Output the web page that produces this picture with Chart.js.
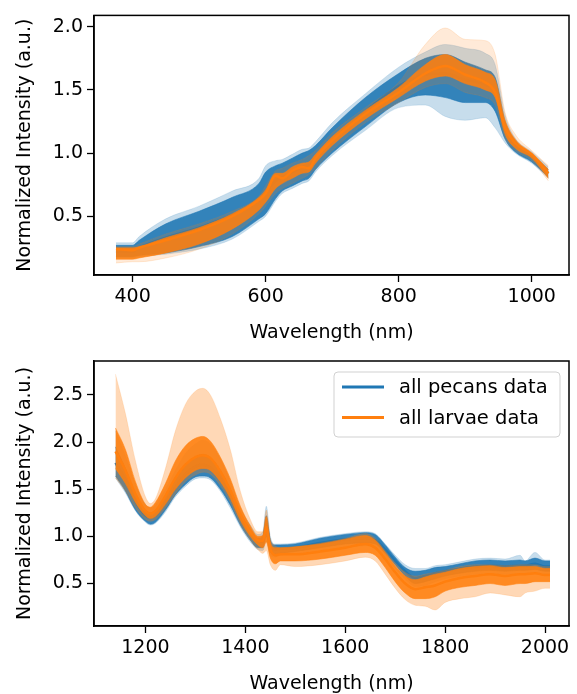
<!DOCTYPE html>
<html>
<head>
<meta charset="utf-8">
<script src="https://cdn.jsdelivr.net/npm/chart.js@4/dist/chart.umd.min.js"></script>
<style>
  body { margin: 0; background: #fff; }
  .panel { position: relative; width: 577px; }
  canvas { display: block; }
</style>
</head>
<body>
<div class="panel"><canvas id="topChart" width="577" height="343"></canvas></div>
<div class="panel"><canvas id="bottomChart" width="577" height="351"></canvas></div>
<script>
// ---- top panel (visible range) ----
const topWl = [375, 400, 410, 450, 500, 550, 590, 600, 615, 625, 640, 655, 665, 675, 700, 750, 800, 840, 870, 900, 930, 945, 960, 975, 1000, 1025];

const pecansTopMax  = [0.29, 0.29, 0.34, 0.48, 0.58, 0.70, 0.80, 0.90, 0.94, 0.95, 0.99, 1.03, 1.04, 1.09, 1.24, 1.47, 1.68, 1.80, 1.86, 1.83, 1.79, 1.70, 1.30, 1.12, 1.01, 0.89];
const pecansTopHigh = [0.27, 0.27, 0.31, 0.44, 0.54, 0.65, 0.76, 0.85, 0.90, 0.92, 0.96, 1.00, 1.02, 1.06, 1.20, 1.44, 1.63, 1.75, 1.78, 1.72, 1.66, 1.60, 1.25, 1.10, 0.99, 0.87];
const pecansTopMean = [0.22, 0.22, 0.25, 0.33, 0.41, 0.51, 0.63, 0.69, 0.78, 0.81, 0.85, 0.89, 0.91, 0.96, 1.10, 1.33, 1.53, 1.62, 1.63, 1.58, 1.54, 1.48, 1.18, 1.06, 0.97, 0.84];
const pecansTopLow  = [0.18, 0.18, 0.19, 0.21, 0.26, 0.34, 0.48, 0.52, 0.64, 0.70, 0.74, 0.78, 0.80, 0.87, 1.00, 1.21, 1.40, 1.46, 1.44, 1.40, 1.40, 1.33, 1.11, 1.01, 0.93, 0.81];
const pecansTopMin  = [0.17, 0.17, 0.18, 0.20, 0.24, 0.32, 0.46, 0.50, 0.62, 0.68, 0.72, 0.76, 0.78, 0.85, 0.98, 1.18, 1.36, 1.38, 1.29, 1.26, 1.28, 1.20, 1.08, 1.00, 0.92, 0.80];

const larvaeTopMax  = [0.26, 0.26, 0.28, 0.36, 0.44, 0.54, 0.66, 0.74, 0.86, 0.88, 0.92, 0.95, 0.98, 1.02, 1.16, 1.36, 1.56, 1.86, 1.99, 1.90, 1.89, 1.78, 1.32, 1.15, 1.02, 0.90];
const larvaeTopHigh = [0.25, 0.25, 0.26, 0.33, 0.41, 0.52, 0.65, 0.71, 0.84, 0.84, 0.89, 0.92, 0.93, 0.99, 1.13, 1.34, 1.52, 1.70, 1.78, 1.70, 1.64, 1.58, 1.26, 1.11, 1.00, 0.87];
const larvaeTopMean = [0.24, 0.23, 0.25, 0.31, 0.39, 0.50, 0.63, 0.68, 0.82, 0.80, 0.86, 0.89, 0.88, 0.96, 1.10, 1.31, 1.48, 1.63, 1.69, 1.62, 1.56, 1.48, 1.20, 1.08, 0.99, 0.84];
const larvaeTopLow  = [0.16, 0.16, 0.17, 0.21, 0.28, 0.40, 0.55, 0.61, 0.72, 0.76, 0.80, 0.84, 0.85, 0.92, 1.06, 1.27, 1.44, 1.57, 1.61, 1.55, 1.50, 1.44, 1.15, 1.04, 0.96, 0.80];
const larvaeTopMin  = [0.13, 0.14, 0.14, 0.17, 0.24, 0.36, 0.52, 0.58, 0.68, 0.72, 0.76, 0.80, 0.83, 0.88, 1.02, 1.24, 1.40, 1.52, 1.55, 1.48, 1.44, 1.38, 1.12, 1.02, 0.94, 0.78];

const xTicksTop = [400, 600, 800, 1000];
const yTicksTop = [0.5, 1.0, 1.5, 2.0];

// ---- bottom panel (NIR range) ----
const botWl = [1140, 1160, 1180, 1200, 1210, 1220, 1240, 1260, 1280, 1300, 1315, 1330, 1350, 1370, 1390, 1410, 1425, 1435, 1442, 1450, 1460, 1470, 1500, 1550, 1600, 1640, 1660, 1680, 1700, 1720, 1740, 1760, 1780, 1800, 1830, 1860, 1890, 1920, 1950, 1960, 1980, 2000, 2010];

const pecansBotMax  = [2.12, 1.85, 1.55, 1.34, 1.30, 1.33, 1.50, 1.70, 1.88, 1.98, 2.02, 1.98, 1.82, 1.58, 1.30, 1.12, 1.02, 1.05, 1.32, 1.00, 0.92, 0.92, 0.93, 0.99, 1.03, 1.05, 1.03, 0.92, 0.80, 0.70, 0.66, 0.66, 0.69, 0.70, 0.73, 0.76, 0.77, 0.76, 0.80, 0.74, 0.83, 0.75, 0.75];
const pecansBotHigh = [1.95, 1.72, 1.45, 1.28, 1.25, 1.28, 1.42, 1.60, 1.75, 1.84, 1.87, 1.84, 1.70, 1.50, 1.25, 1.08, 0.98, 1.00, 1.22, 0.96, 0.91, 0.91, 0.92, 0.98, 1.02, 1.04, 1.02, 0.91, 0.78, 0.67, 0.63, 0.64, 0.67, 0.68, 0.71, 0.74, 0.75, 0.74, 0.75, 0.74, 0.77, 0.74, 0.74];
const pecansBotMean = [1.78, 1.60, 1.37, 1.22, 1.20, 1.22, 1.36, 1.52, 1.66, 1.74, 1.76, 1.73, 1.61, 1.42, 1.19, 1.03, 0.94, 0.95, 1.12, 0.90, 0.86, 0.87, 0.88, 0.93, 0.97, 0.98, 0.96, 0.86, 0.74, 0.63, 0.56, 0.58, 0.61, 0.63, 0.66, 0.68, 0.69, 0.68, 0.69, 0.69, 0.71, 0.68, 0.68];
const pecansBotLow  = [1.64, 1.48, 1.28, 1.16, 1.13, 1.15, 1.28, 1.44, 1.55, 1.63, 1.64, 1.62, 1.50, 1.33, 1.12, 0.96, 0.88, 0.88, 1.00, 0.83, 0.81, 0.82, 0.84, 0.88, 0.92, 0.93, 0.92, 0.82, 0.70, 0.58, 0.50, 0.52, 0.55, 0.58, 0.61, 0.63, 0.64, 0.63, 0.64, 0.64, 0.65, 0.63, 0.63];
const pecansBotMin  = [1.62, 1.46, 1.27, 1.15, 1.12, 1.14, 1.26, 1.42, 1.53, 1.61, 1.62, 1.60, 1.48, 1.30, 1.10, 0.94, 0.86, 0.85, 0.95, 0.80, 0.78, 0.80, 0.82, 0.85, 0.88, 0.90, 0.88, 0.78, 0.66, 0.55, 0.47, 0.48, 0.52, 0.55, 0.58, 0.60, 0.61, 0.60, 0.61, 0.61, 0.62, 0.60, 0.60];

const larvaeBotMax  = [2.72, 2.30, 1.80, 1.42, 1.35, 1.40, 1.72, 2.12, 2.40, 2.54, 2.57, 2.50, 2.25, 1.92, 1.48, 1.18, 1.05, 1.05, 1.28, 0.98, 0.90, 0.88, 0.89, 0.93, 0.98, 1.03, 0.98, 0.85, 0.72, 0.62, 0.58, 0.60, 0.62, 0.64, 0.68, 0.70, 0.70, 0.69, 0.70, 0.70, 0.70, 0.68, 0.68];
const larvaeBotHigh = [2.15, 1.92, 1.58, 1.34, 1.31, 1.36, 1.56, 1.80, 1.96, 2.04, 2.06, 2.01, 1.84, 1.61, 1.32, 1.11, 1.00, 1.01, 1.21, 0.94, 0.88, 0.88, 0.89, 0.92, 0.97, 1.01, 0.96, 0.83, 0.69, 0.58, 0.54, 0.57, 0.60, 0.62, 0.66, 0.68, 0.69, 0.67, 0.68, 0.68, 0.68, 0.66, 0.66];
const larvaeBotMean = [1.90, 1.70, 1.45, 1.27, 1.24, 1.27, 1.43, 1.62, 1.76, 1.84, 1.86, 1.83, 1.69, 1.49, 1.24, 1.05, 0.96, 0.95, 1.10, 0.87, 0.80, 0.81, 0.81, 0.84, 0.88, 0.92, 0.88, 0.76, 0.62, 0.50, 0.44, 0.46, 0.48, 0.52, 0.56, 0.58, 0.60, 0.58, 0.60, 0.60, 0.61, 0.59, 0.59];
const larvaeBotLow  = [1.72, 1.56, 1.36, 1.22, 1.19, 1.21, 1.34, 1.50, 1.62, 1.70, 1.72, 1.70, 1.58, 1.40, 1.17, 1.00, 0.91, 0.88, 0.94, 0.77, 0.71, 0.74, 0.74, 0.76, 0.80, 0.83, 0.80, 0.67, 0.52, 0.40, 0.34, 0.34, 0.36, 0.42, 0.46, 0.48, 0.50, 0.48, 0.50, 0.50, 0.52, 0.52, 0.52];
const larvaeBotMin  = [1.62, 1.48, 1.30, 1.18, 1.16, 1.18, 1.30, 1.45, 1.58, 1.65, 1.68, 1.66, 1.54, 1.36, 1.13, 0.96, 0.86, 0.82, 0.85, 0.70, 0.64, 0.70, 0.68, 0.70, 0.74, 0.78, 0.74, 0.60, 0.45, 0.33, 0.27, 0.26, 0.22, 0.30, 0.34, 0.36, 0.40, 0.38, 0.36, 0.40, 0.42, 0.45, 0.45];

const xTicksBot = [1200, 1400, 1600, 1800, 2000];
const yTicksBot = [0.5, 1.0, 1.5, 2.0, 2.5];

const seriesNames = ["all pecans data", "all larvae data"];
const BLUE = [31, 119, 180];
const ORANGE = [255, 127, 14];

const FONT = "DejaVu Sans";

function rgba(c, a) {
  return `rgba(${c[0]},${c[1]},${c[2]},${a})`;
}

function pts(xs, ys) {
  return xs.map((x, i) => ({ x: x, y: ys[i] }));
}

// one group = pale outer envelope, dense core, and a mean line on top
function groupDatasets(name, color, wl, arrays, baseOrder, outerAlpha, coreAlpha) {
  const [maxV, highV, meanV, lowV, minV] = arrays;
  const common = { pointRadius: 0, cubicInterpolationMode: "monotone" };
  return [
    { ...common, label: name + " max", data: pts(wl, maxV), borderColor: rgba(color, 0.15), borderWidth: 1,
      backgroundColor: rgba(color, outerAlpha), fill: "+4", order: baseOrder + 4 },
    { ...common, label: name + " high", data: pts(wl, highV), borderColor: rgba(color, 0.55), borderWidth: 1,
      backgroundColor: rgba(color, coreAlpha), fill: "+2", order: baseOrder + 3 },
    { ...common, label: name, data: pts(wl, meanV), borderColor: rgba(color, 1), borderWidth: 2.5,
      fill: false, order: baseOrder, legendEntry: true, legendColor: rgba(color, 1) },
    { ...common, label: name + " low", data: pts(wl, lowV), borderColor: rgba(color, 0.55), borderWidth: 1,
      fill: false, order: baseOrder + 2 },
    { ...common, label: name + " min", data: pts(wl, minV), borderColor: rgba(color, 0.15), borderWidth: 1,
      fill: false, order: baseOrder + 4 }
  ];
}

// matplotlib-style full box around the axes
const framePlugin = {
  id: "frame",
  afterDatasetsDraw(chart) {
    const { ctx, chartArea: a } = chart;
    ctx.save();
    ctx.strokeStyle = "#000";
    ctx.lineWidth = 1.5;
    ctx.strokeRect(a.left, a.top, a.right - a.left, a.bottom - a.top);
    ctx.restore();
  }
};

// legend box in the upper right of the lower panel
const boxLegendPlugin = {
  id: "boxLegend",
  afterDraw(chart) {
    const { ctx, chartArea: a } = chart;
    const entries = chart.data.datasets.filter(d => d.legendEntry);
    const w = 226, h = 65;
    const x = a.right - 9 - w, y = a.top + 11;
    ctx.save();
    ctx.beginPath();
    ctx.roundRect(x, y, w, h, 4);
    ctx.fillStyle = "rgba(255,255,255,0.8)";
    ctx.fill();
    ctx.strokeStyle = "rgba(204,204,204,0.9)";
    ctx.lineWidth = 1;
    ctx.stroke();
    ctx.font = `19.5px "${FONT}"`;
    ctx.textBaseline = "middle";
    entries.forEach((d, i) => {
      const ly = y + 15 + i * 30.5;
      ctx.strokeStyle = d.legendColor;
      ctx.lineWidth = 3;
      ctx.beginPath();
      ctx.moveTo(x + 8, ly);
      ctx.lineTo(x + 50, ly);
      ctx.stroke();
      ctx.fillStyle = "#000";
      ctx.fillText(d.label, x + 65, ly + 1);
    });
    ctx.restore();
  }
};

function axisOptions(kind, min, max, tickValues, size, title, fmt) {
  return {
    type: "linear",
    min: min,
    max: max,
    afterBuildTicks: axis => { axis.ticks = tickValues.map(v => ({ value: v })); },
    afterFit: s => {
      if (kind === "x") s.height = size; else s.width = size;
    },
    grid: { display: true, drawOnChartArea: false, drawTicks: true, tickLength: 7, tickWidth: 1.3, tickColor: "#000" },
    border: { display: true, color: "#000", width: 1.5 },
    ticks: {
      color: "#000",
      padding: 4,
      maxRotation: 0,
      autoSkip: false,
      font: { family: FONT, size: 19 },
      callback: fmt
    },
    title: {
      display: true,
      text: title,
      color: "#000",
      font: { family: FONT, size: 19, lineHeight: 1 },
      padding: kind === "x" ? { top: 0, bottom: 0 } : { top: 16, bottom: 0 }
    }
  };
}

function makePanel(canvasId, cfg) {
  const datasets = [
    ...groupDatasets(seriesNames[0], BLUE, cfg.wl, cfg.pecans, 10, cfg.blueOuter, 0.88),
    ...groupDatasets(seriesNames[1], ORANGE, cfg.wl, cfg.larvae, 0, cfg.orangeOuter, 0.88)
  ];
  return new Chart(document.getElementById(canvasId).getContext("2d"), {
    type: "line",
    data: { datasets: datasets },
    options: {
      responsive: false,
      animation: false,
      devicePixelRatio: 1,
      layout: { padding: cfg.padding },
      plugins: { legend: { display: false }, tooltip: { enabled: false } },
      scales: {
        x: axisOptions("x", cfg.xMin, cfg.xMax, cfg.xTicks, cfg.xAxisHeight, "Wavelength (nm)", v => String(v)),
        y: axisOptions("y", cfg.yMin, cfg.yMax, cfg.yTicks, 94, "Normalized Intensity (a.u.)", v => v.toFixed(1))
      }
    },
    plugins: cfg.legend ? [framePlugin, boxLegendPlugin] : [framePlugin]
  });
}

makePanel("topChart", {
  wl: topWl,
  pecans: [pecansTopMax, pecansTopHigh, pecansTopMean, pecansTopLow, pecansTopMin],
  larvae: [larvaeTopMax, larvaeTopHigh, larvaeTopMean, larvaeTopLow, larvaeTopMin],
  xMin: 342, xMax: 1056, yMin: 0.035, yMax: 2.09,
  xTicks: xTicksTop, yTicks: yTicksTop,
  xAxisHeight: 68,
  padding: { top: 9, right: 8, left: 0, bottom: 0 },
  blueOuter: 0.25, orangeOuter: 0.16,
  legend: false
});

makePanel("bottomChart", {
  wl: botWl,
  pecans: [pecansBotMax, pecansBotHigh, pecansBotMean, pecansBotLow, pecansBotMin],
  larvae: [larvaeBotMax, larvaeBotHigh, larvaeBotMean, larvaeBotLow, larvaeBotMin],
  xMin: 1097, xMax: 2048, yMin: 0.05, yMax: 2.86,
  xTicks: xTicksBot, yTicks: yTicksBot,
  xAxisHeight: 68,
  padding: { top: 18, right: 8, left: 0, bottom: 0 },
  blueOuter: 0.25, orangeOuter: 0.3,
  legend: true
});
</script>
</body>
</html>
